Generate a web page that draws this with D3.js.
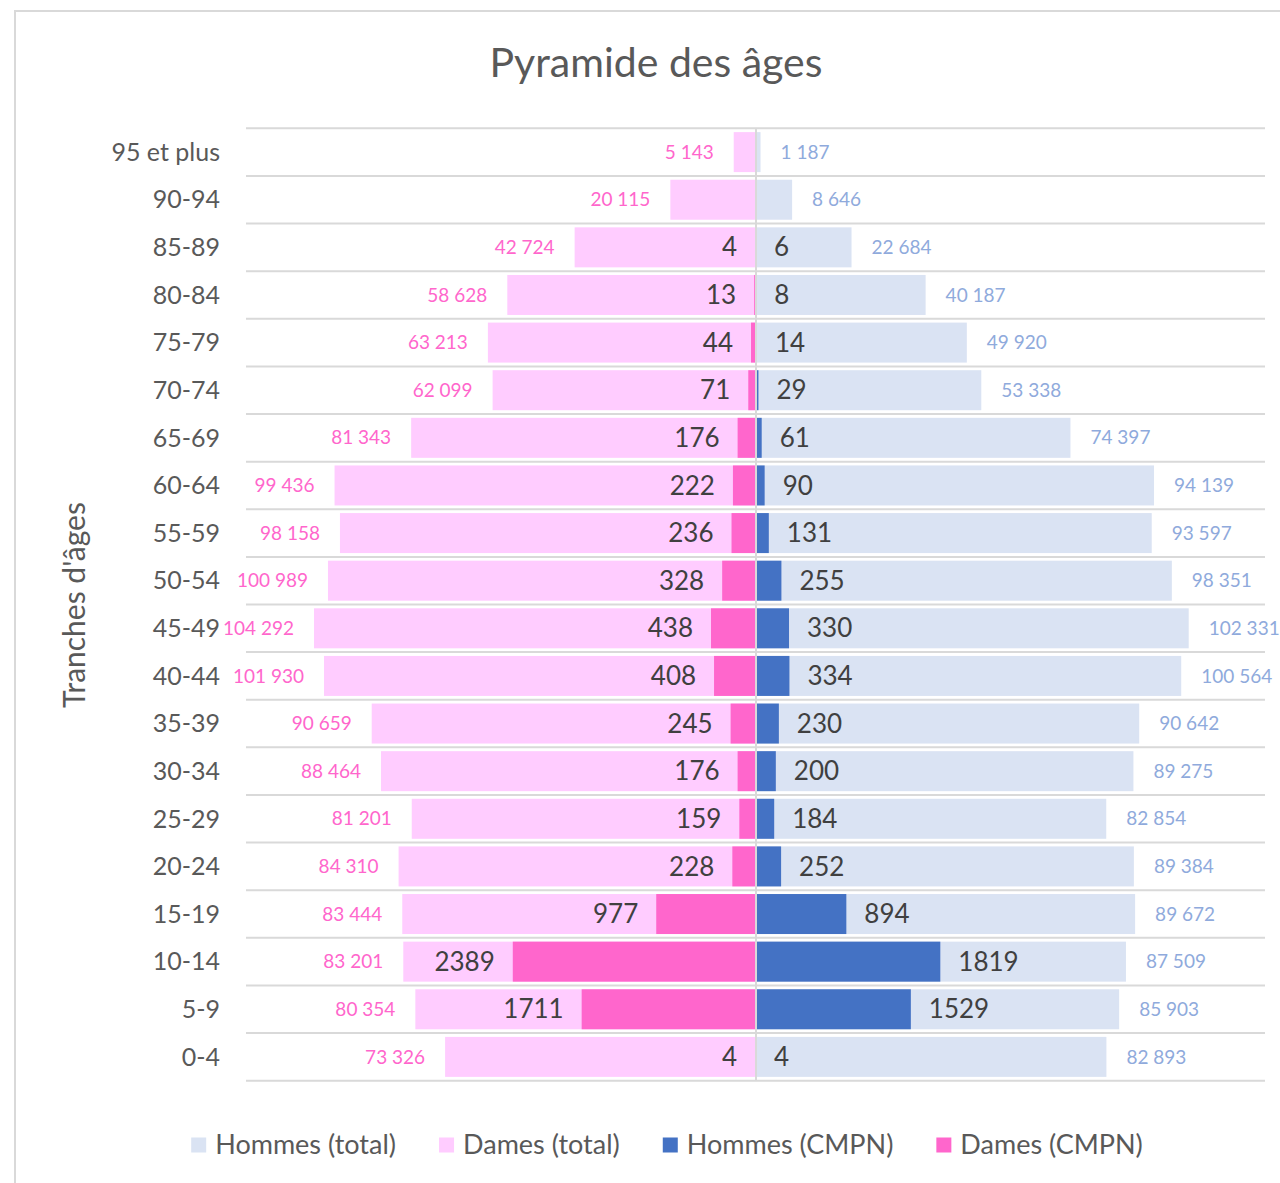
<!DOCTYPE html>
<html lang="fr">
<head>
  <meta charset="UTF-8">
  <title>Pyramide des âges</title>
  <script src="https://d3js.org/d3.v7.min.js"></script>
  <style>
    html, body { margin: 0; background: #fff; }
    svg { display: block; }
    text { font-family: Lato, "Noto Sans", sans-serif; }
  </style>
</head>
<body>
  <svg width="1280" height="1183"></svg>
  <script>
    // tranches d'âges, du haut vers le bas
    const ages = ["95 et plus", "90-94", "85-89", "80-84", "75-79", "70-74", "65-69", "60-64", "55-59", "50-54",
                  "45-49", "40-44", "35-39", "30-34", "25-29", "20-24", "15-19", "10-14", "5-9", "0-4"];
    const damesTotal = [5143, 20115, 42724, 58628, 63213, 62099, 81343, 99436, 98158, 100989,
                        104292, 101930, 90659, 88464, 81201, 84310, 83444, 83201, 80354, 73326];
    const hommesTotal = [1187, 8646, 22684, 40187, 49920, 53338, 74397, 94139, 93597, 98351,
                         102331, 100564, 90642, 89275, 82854, 89384, 89672, 87509, 85903, 82893];
    const damesCMPN = [null, null, 4, 13, 44, 71, 176, 222, 236, 328,
                       438, 408, 245, 176, 159, 228, 977, 2389, 1711, 4];
    const hommesCMPN = [null, null, 6, 8, 14, 29, 61, 90, 131, 255,
                        330, 334, 230, 200, 184, 252, 894, 1819, 1529, 4];
    const legendNames = ["Hommes (total)", "Dames (total)", "Hommes (CMPN)", "Dames (CMPN)"];
    const colors = { hT: "#dae3f3", dT: "#ffccff", hC: "#4472c4", dC: "#ff66cc" };

    const fr = d3.formatLocale({ decimal: ",", thousands: " ", grouping: [3], currency: ["", " €"] });
    const fmt = fr.format(",d");

    const svg = d3.select("svg");

    // cadre
    svg.append("rect")
      .attr("x", 15).attr("y", 11).attr("width", 1300).attr("height", 1200)
      .attr("fill", "#fff").attr("stroke", "#d9d9d9").attr("stroke-width", 2);

    svg.append("text")
      .attr("x", 656).attr("y", 77)
      .attr("text-anchor", "middle")
      .attr("font-size", 41)
      .attr("fill", "#595959")
      .text("Pyramide des âges");

    const y = d3.scaleBand().domain(ages).range([128.3, 1080.7]).paddingInner(0.16).paddingOuter(0.08);
    const xT = d3.scaleLinear().domain([-120000, 120000]).range([247.5, 1263.5]);
    const xC = d3.scaleLinear().domain([-5000, 5000]).range([247.5, 1263.5]);
    const step = y.step();

    const rows = ages.map((a, i) => ({ a, dT: damesTotal[i], hT: hommesTotal[i], dC: damesCMPN[i], hC: hommesCMPN[i] }));

    // quadrillage
    const bounds = ages.map(a => y(a) - step * 0.08).concat([y(ages[ages.length - 1]) + y.bandwidth() + step * 0.08]);
    svg.append("g").selectAll("line").data(bounds).join("line")
      .attr("x1", 246).attr("x2", 1265)
      .attr("y1", d => d).attr("y2", d => d)
      .attr("stroke", "#d9d9d9").attr("stroke-width", 2);

    const bars = svg.append("g");
    bars.selectAll(".dT").data(rows).join("rect")
      .attr("x", d => xT(-d.dT)).attr("width", d => xT(0) - xT(-d.dT))
      .attr("y", d => y(d.a)).attr("height", y.bandwidth())
      .attr("fill", colors.dT);
    bars.selectAll(".hT").data(rows).join("rect")
      .attr("x", xT(0)).attr("width", d => xT(d.hT) - xT(0))
      .attr("y", d => y(d.a)).attr("height", y.bandwidth())
      .attr("fill", colors.hT);
    bars.selectAll(".dC").data(rows.filter(d => d.dC != null)).join("rect")
      .attr("x", d => xC(-d.dC)).attr("width", d => xC(0) - xC(-d.dC))
      .attr("y", d => y(d.a)).attr("height", y.bandwidth())
      .attr("fill", colors.dC);
    bars.selectAll(".hC").data(rows.filter(d => d.hC != null)).join("rect")
      .attr("x", xC(0)).attr("width", d => xC(d.hC) - xC(0))
      .attr("y", d => y(d.a)).attr("height", y.bandwidth())
      .attr("fill", colors.hC);

    // axe vertical
    svg.append("line")
      .attr("x1", xT(0) + 0.5).attr("x2", xT(0) + 0.5)
      .attr("y1", bounds[0]).attr("y2", bounds[bounds.length - 1])
      .attr("stroke", "#d9d9d9").attr("stroke-width", 2);

    // étiquettes des tranches
    svg.append("g").selectAll("text").data(ages).join("text")
      .attr("x", 220).attr("y", d => y(d) + y.bandwidth() / 2)
      .attr("dy", "0.35em").attr("text-anchor", "end")
      .attr("font-size", 25).attr("fill", "#595959")
      .text(d => d);

    svg.append("text")
      .attr("transform", "translate(85,605) rotate(-90)")
      .attr("text-anchor", "middle")
      .attr("font-size", 30).attr("fill", "#595959")
      .text("Tranches d'âges");

    // valeurs
    const lab = svg.append("g");
    const cy = d => y(d.a) + y.bandwidth() / 2;
    lab.selectAll(".ldT").data(rows).join("text")
      .attr("x", d => xT(-d.dT) - 20).attr("y", cy).attr("dy", "0.35em")
      .attr("text-anchor", "end").attr("font-size", 19).attr("fill", "#ff66cc")
      .text(d => fmt(d.dT));
    lab.selectAll(".lhT").data(rows).join("text")
      .attr("x", d => xT(d.hT) + 20).attr("y", cy).attr("dy", "0.35em")
      .attr("text-anchor", "start").attr("font-size", 19).attr("fill", "#8faadc")
      .text(d => fmt(d.hT));
    lab.selectAll(".ldC").data(rows.filter(d => d.dC != null)).join("text")
      .attr("x", d => xC(-d.dC) - 18).attr("y", cy).attr("dy", "0.35em")
      .attr("text-anchor", "end").attr("font-size", 26).attr("fill", "#404040")
      .text(d => d.dC);
    lab.selectAll(".lhC").data(rows.filter(d => d.hC != null)).join("text")
      .attr("x", d => xC(d.hC) + 18).attr("y", cy).attr("dy", "0.35em")
      .attr("text-anchor", "start").attr("font-size", 26).attr("fill", "#404040")
      .text(d => d.hC);

    // légende
    const legColors = [colors.hT, colors.dT, colors.hC, colors.dC];
    const leg = svg.append("g");
    let lx = 0;
    legendNames.forEach((name, i) => {
      const g = leg.append("g").attr("transform", `translate(${lx},0)`);
      g.append("rect").attr("x", 0).attr("y", -7.5).attr("width", 15).attr("height", 15).attr("fill", legColors[i]);
      const t = g.append("text").attr("x", 24).attr("dy", "0.35em")
        .attr("font-size", 27).attr("fill", "#595959").text(name);
      lx += 24 + t.node().getComputedTextLength() + 43;
    });
    const legW = lx - 43;
    leg.attr("transform", `translate(${667 - legW / 2},1145)`);
  </script>
</body>
</html>
